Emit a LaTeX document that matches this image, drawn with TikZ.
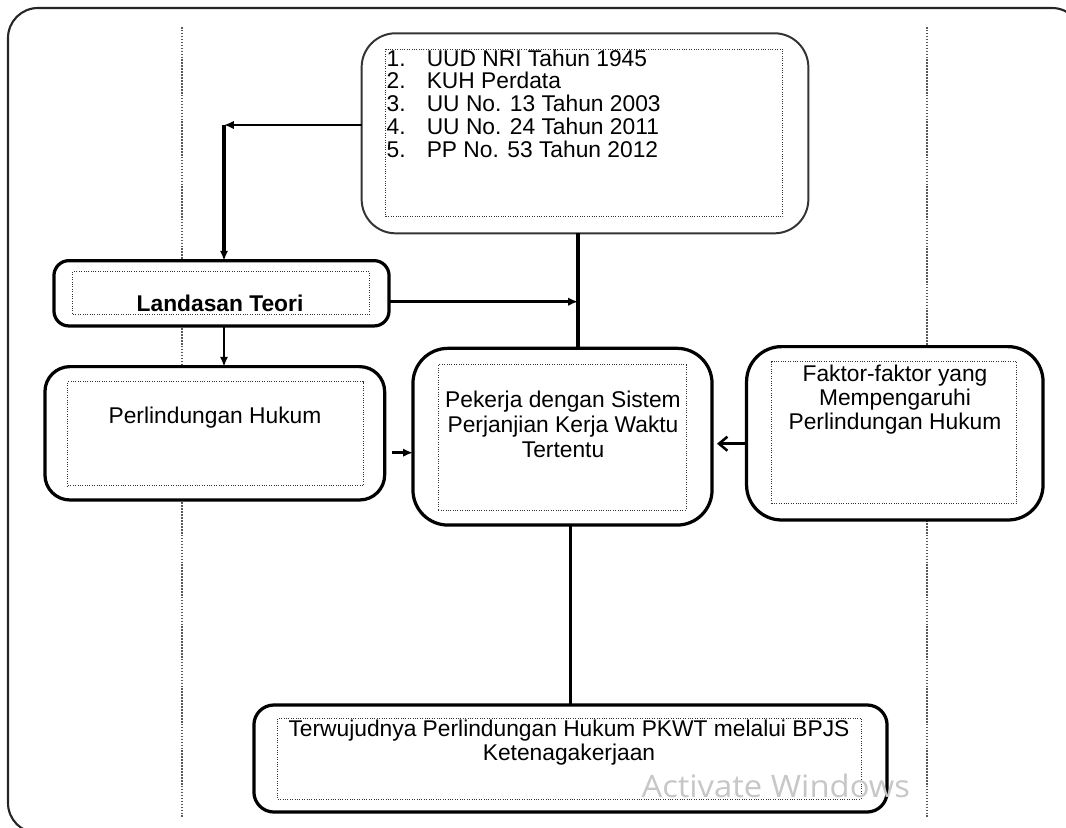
\documentclass[tikz,border=0pt]{standalone}
\usepackage{fontspec}
\setmainfont{Liberation Sans}
\newfontfamily\wmfont{Open Sans}
\usetikzlibrary{arrows.meta}

\tikzset{
  outerbox/.style={draw, line width=2.3pt, fill=white},
  innerbox/.style={draw=black!80, densely dotted, line width=0.7pt},
  conn/.style={line width=1.8pt},
  trunk/.style={line width=2.4pt},
  guide/.style={densely dotted, line width=1.1pt, black!65},
  wmark/.style={text=black!22, anchor=base west},
}

\begin{document}
\begin{tikzpicture}[x=0.025cm, y=-0.025cm, >={Latex[length=7pt,width=6pt]},
  every node/.style={inner sep=0pt, outer sep=0pt}]
\useasboundingbox (0,0) rectangle (1066,828);
\clip (0,0) rectangle (1066,828);

% frame and guide lines
\draw[line width=1.5pt, black!85, rounded corners=0.75cm] (8,8) rectangle (1082,833);
\draw[guide] (182,27) -- (182,817);
\draw[guide] (927,27) -- (927,817);

% boxes
\node[outerbox, line width=1.4pt, draw=black!80, rounded corners=0.85cm,
      minimum width=11.165cm, minimum height=5cm] (dasar) at (585,133.3) {};
\node[innerbox, minimum width=9.92cm, minimum height=4.185cm] (dasarin) at (584.4,133) {};

\node[outerbox, rounded corners=0.375cm, minimum width=8.375cm, minimum height=1.633cm] (teori) at (221.5,293.3) {};
\node[innerbox, minimum width=7.4cm, minimum height=1.083cm] (teoriin) at (221,293.3) {};

\node[outerbox, rounded corners=0.625cm, minimum width=8.49cm, minimum height=3.333cm] (lindung) at (214.8,433.3) {};
\node[innerbox, minimum width=7.375cm, minimum height=2.608cm] (lindungin) at (215.5,433.8) {};

\node[outerbox, rounded corners=0.875cm, minimum width=7.475cm, minimum height=4.417cm] (pkwt) at (562.5,436.7) {};
\node[innerbox, minimum width=6.19cm, minimum height=3.625cm] (pkwtin) at (562.2,437.5) {};

\node[outerbox, rounded corners=0.875cm, minimum width=7.41cm, minimum height=4.333cm] (faktor) at (894.8,433.3) {};
\node[innerbox, minimum width=6.13cm, minimum height=3.525cm] (faktorin) at (894.3,432.5) {};

\node[outerbox, rounded corners=0.5cm, minimum width=15.825cm, minimum height=2.675cm] (hasil) at (570.5,758.5) {};
\node[innerbox, minimum width=14.575cm, minimum height=2.025cm] (hasilin) at (569.5,758.5) {};

% texts
\node[anchor=north west, align=left, font=\fontsize{16.2}{16.2}\selectfont] (dasartxt) at (386.7,49.6)
  {\makebox[28.5pt][l]{1.}UUD NRI Tahun 1945\\
   \makebox[28.5pt][l]{2.}KUH Perdata\\
   \makebox[28.5pt][l]{3.}UU No. 13 Tahun 2003\\
   \makebox[28.5pt][l]{4.}UU No. 24 Tahun 2011\\
   \makebox[28.5pt][l]{5.}PP No. 53 Tahun 2012};
\node[anchor=base, font=\fontsize{16.2}{16.2}\selectfont\bfseries] (teoritxt) at (220,311.7) {Landasan Teori};
\node[anchor=base, font=\fontsize{16.2}{16.2}\selectfont] (lindungtxt) at (215,423.3) {Perlindungan Hukum};
\node[anchor=north, align=center, font=\fontsize{16.2}{17.8}\selectfont] (pkwttxt) at (563,391)
  {Pekerja dengan Sistem\\ Perjanjian Kerja Waktu\\ Tertentu};
\node[anchor=north, align=center, font=\fontsize{16.2}{16.9}\selectfont] (faktortxt) at (895,365)
  {Faktor-faktor yang\\ Mempengaruhi\\ Perlindungan Hukum};
\node[anchor=north, align=center, font=\fontsize{16.2}{16.6}\selectfont] (hasiltxt) at (569,720.3)
  {Terwujudnya Perlindungan Hukum PKWT melalui BPJS\\ Ketenagakerjaan};

% connectors
\coordinate (kiri) at (224,125);
\coordinate (tengah) at (578,301.7);
\coordinate (masuk) at (392,452.7);
\coordinate (ujung) at (717,443.7);

\draw[conn,->] (dasar.west |- kiri) -- (kiri);
\draw[trunk,->] (kiri) -- (kiri |- teori.north);
\draw[conn,->] (teori.south -| kiri) -- (lindung.north -| kiri);
\draw[trunk] (dasar.south -| tengah) -- (pkwt.north -| tengah);
\draw[conn,->] (teori.east |- tengah) -- (tengah);
\draw[conn,->] (masuk) -- (masuk -| pkwt.west);
\draw[conn,-{Straight Barb[length=6pt,width=10pt]}] (faktor.west |- ujung) -- (ujung);
\draw[trunk] (pkwt.south -| hasil.north) -- (hasil.north);

% watermark
\node[wmark, font=\wmfont\fontsize{22}{22}\selectfont] (wm) at (641.5,797.3) {\scalebox{1.06}[1]{Activate Windows}};
\end{tikzpicture}
\end{document}
